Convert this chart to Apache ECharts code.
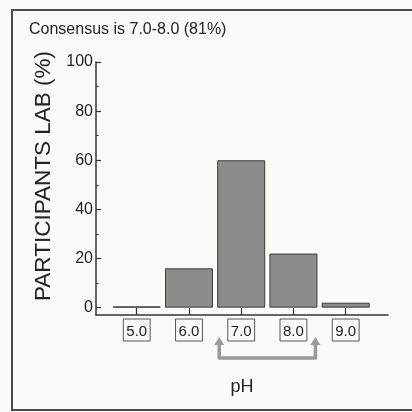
<!DOCTYPE html>
<html><head><meta charset="utf-8">
<script src="https://cdn.jsdelivr.net/npm/echarts@6/dist/echarts.min.js"></script>
<style>html,body{margin:0;padding:0;background:#fafaf9}#c{width:412px;height:412px}</style>
</head><body><div id="c"></div>
<script>
const titleText = 'Consensus is 7.0-8.0 (81%)';
const phValues = [5, 6, 7, 8, 9];
const participants = [0.5, 16, 60, 22, 2];
const yTicks = [0, 20, 40, 60, 80, 100];
const yMinorTicks = [10, 30, 50, 70, 90];
const consensusRange = [7, 8];
const yName = 'PARTICIPANTS LAB (%)';
const xName = 'pH';

const FONT = '"Liberation Sans", Arial, sans-serif';
const BAR_W = 48;
const yMin = -3, yMax = 100;

const chart = echarts.init(document.getElementById('c'), null, {renderer: 'canvas'});
chart.setOption({
  backgroundColor: '#fafaf9',
  animation: false,
  title: {
    text: titleText, left: 24, top: 17,
    textStyle: {fontFamily: FONT, fontSize: 16, fontWeight: 'normal', color: '#222'}
  },
  grid: {left: 96, right: 24, top: 62, bottom: 97, containLabel: false, outerBoundsMode: 'none'},
  xAxis: {
    type: 'value', min: 4.22, max: 9.81, position: 'bottom',
    axisLine: {show: true, onZero: false, lineStyle: {color: '#333', width: 1.5}},
    axisTick: {show: true, inside: true, length: 7, customValues: phValues, lineStyle: {color: '#333', width: 1.2}},
    axisLabel: {
      customValues: phValues, formatter: v => v.toFixed(1),
      fontFamily: FONT, fontSize: 15, color: '#222', margin: 4,
      borderColor: '#555', borderWidth: 1, padding: [5, 3, 2, 3]
    },
    splitLine: {show: false},
    name: xName, nameLocation: 'middle', nameGap: 63,
    nameTextStyle: {fontFamily: FONT, fontSize: 18, color: '#222'}
  },
  yAxis: [{
    type: 'value', min: yMin, max: yMax, position: 'left',
    axisLine: {show: true, lineStyle: {color: '#333', width: 1.5}},
    axisTick: {show: true, inside: true, length: 5, customValues: yTicks, lineStyle: {color: '#333', width: 1.2}},
    axisLabel: {customValues: yTicks, fontFamily: FONT, fontSize: 16, color: '#222', margin: 3},
    splitLine: {show: false},
    name: yName, nameLocation: 'middle', nameGap: 41,
    nameTextStyle: {fontFamily: FONT, fontSize: 22.5, color: '#222', padding: [0, 0, 0, 25]}
  }, {
    type: 'value', min: yMin, max: yMax, position: 'left',
    axisLine: {show: false},
    axisTick: {show: true, inside: true, length: 2.5, customValues: yMinorTicks, lineStyle: {color: '#333', width: 1}},
    axisLabel: {show: false},
    splitLine: {show: false}
  }],
  series: [{
    type: 'bar',
    data: phValues.map((p, i) => [p, participants[i]]),
    barWidth: BAR_W,
    itemStyle: {color: '#8c8c8c', borderColor: '#3a3a3a', borderWidth: 1}
  }]
});

function drawArrow() {
  const xL = chart.convertToPixel({xAxisIndex: 0}, consensusRange[0]) - (BAR_W / 2 - 2);
  const xR = chart.convertToPixel({xAxisIndex: 0}, consensusRange[1]) + (BAR_W / 2 - 2);
  const axisY = chart.convertToPixel({yAxisIndex: 0}, yMin);
  const tipY = axisY + 22, botY = axisY + 43;
  const col = '#9a9a9a';
  chart.setOption({
    graphic: [
      {type: 'rect', shape: {x: 12, y: 10, width: 440, height: 400}, style: {fill: 'none', stroke: '#4a4a4a', lineWidth: 2}, z: 0, silent: true},
      {type: 'polyline', shape: {points: [[xL, tipY + 6], [xL, botY], [xR, botY], [xR, tipY + 6]]},
       style: {fill: 'none', stroke: col, lineWidth: 3.5, lineJoin: 'round'}, silent: true},
      {type: 'polygon', shape: {points: [[xL - 5, tipY + 8], [xL + 5, tipY + 8], [xL, tipY]]}, style: {fill: col}, silent: true},
      {type: 'polygon', shape: {points: [[xR - 5, tipY + 8], [xR + 5, tipY + 8], [xR, tipY]]}, style: {fill: col}, silent: true}
    ]
  });
}
drawArrow();
</script>
</body></html>
